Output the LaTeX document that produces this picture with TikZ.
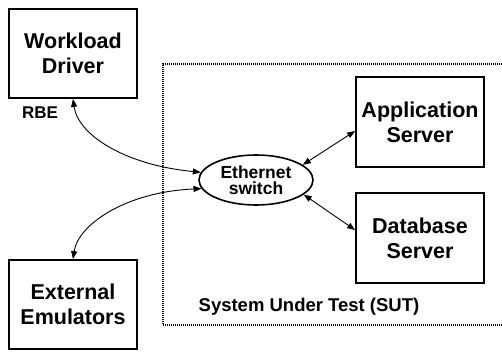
\documentclass[tikz,border=0pt]{standalone}
\usepackage{fontspec}
\setmainfont{Liberation Sans}
\usetikzlibrary{arrows.meta,shapes.geometric}
\begin{document}
\begin{tikzpicture}[x=1pt,y=-1pt,
  boxnode/.style={draw,line width=1.8pt,minimum width=128pt,minimum height=89pt,inner sep=0pt,align=center,
    font=\fontsize{21.5pt}{25pt}\selectfont\bfseries},
  link/.style={line width=0.9pt,{Triangle[length=8pt,width=6pt]}-{Triangle[length=8pt,width=6pt]}},
  sutline/.style={line width=1.2pt,dash pattern=on 1pt off 1pt,black}]
\useasboundingbox (0,0) rectangle (502,351);
\draw[sutline] (502,64) -- (163,64) -- (163,325) -- (502,325);
\node[boxnode] (wd) at (73,53.5) {Workload\\Driver};
\node[boxnode] (ee) at (73,304.5) {External\\Emulators};
\node[boxnode,minimum height=90pt] (app) at (420,122) {Application\\Server};
\node[boxnode,minimum height=90pt] (db) at (420,238) {Database\\Server};
\node[draw,ellipse,line width=1.6pt,minimum width=114pt,minimum height=50pt,inner sep=0pt,align=center,
  font=\fontsize{17.5pt}{16pt}\selectfont\bfseries] (sw) at (256,180) {Ethernet\\switch};
\node[font=\fontsize{17pt}{18pt}\selectfont\bfseries] (rbe) at (40,113) {RBE};
\node[font=\fontsize{18.5pt}{20pt}\selectfont\bfseries] (sut) at (309,306.5) {System Under Test (SUT)};
\draw[link] (wd.south) .. controls (78,135) and (125,165) .. (sw.172);
\draw[link] (sw.189) .. controls (125,192) and (78,225) .. (ee.north);
\draw[link] (sw.18) -- ([yshift=-9pt]app.west);
\draw[link] (sw.-17) -- ([yshift=8pt]db.west);
\end{tikzpicture}
\end{document}
